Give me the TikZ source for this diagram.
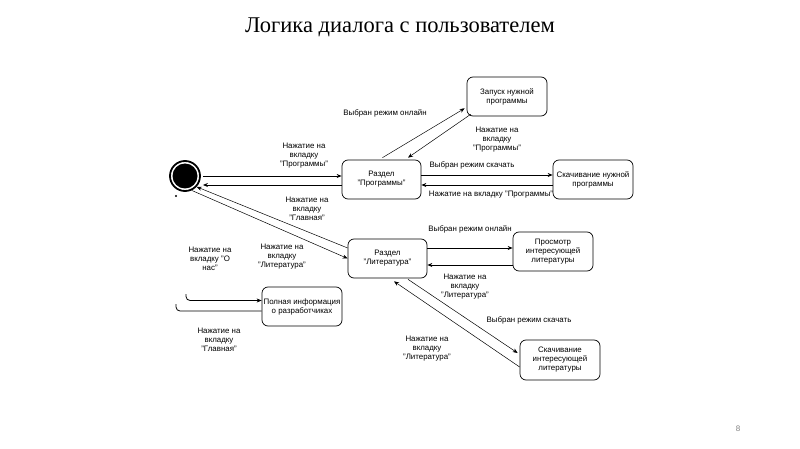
\documentclass[tikz,border=0pt]{standalone}
\usepackage{fontspec}
\setmainfont{Liberation Sans}
\newfontfamily\titlefont{Liberation Serif}
\usetikzlibrary{arrows.meta}
\begin{document}
\begin{tikzpicture}[x=1pt,y=-1pt,
  statebox/.style={draw=black,line width=0.7pt,rounded corners=6pt,minimum width=80pt,minimum height=39pt,inner sep=1pt,align=center,font=\fontsize{7.9}{9}\selectfont},
  lbl/.style={align=center,font=\fontsize{7.9}{9}\selectfont,inner sep=0pt},
  conn/.style={line width=0.8pt,-{Stealth[length=5pt,width=4pt]}},
  diag/.style={line width=0.5pt,-{Stealth[length=5pt,width=4pt]}},
  plain/.style={line width=0.8pt}]
\useasboundingbox (0,0) rectangle (800,449);
\fill[white] (0,0) rectangle (800,449);
% title
\node[font=\titlefont\fontsize{22.5}{26}\selectfont] (title) at (400,27) {Логика диалога с пользователем};
\node[font=\fontsize{8}{9}\selectfont,text=gray] (page) at (738,429) {8};
% start node
\node[circle,draw=black,line width=1.8pt,minimum size=30pt,inner sep=0pt] (start) at (185,176) {};
\fill[black] (start.center) circle (12.5);
\fill[black] (176,196) circle (1.2);
% boxes
\node[statebox] (zap) at (507,96.5) {Запуск нужной\\программы};
\node[statebox,minimum width=79pt] (prog) at (381.5,179.5) {Раздел\\"Программы"};
\node[statebox] (skprog) at (593,179.5) {Скачивание нужной\\программы};
\node[statebox,minimum width=79pt] (lit) at (387.5,258.5) {Раздел\\"Литература"};
\node[statebox] (prosm) at (553,251.5) {Просмотр\\интересующей\\литературы};
\node[statebox] (info) at (302,306.5) {Полная информация\\о разработчиках};
\node[statebox,minimum height=40pt] (sklit) at (560,360) {Скачивание\\интересующей\\литературы};
% connectors
\draw[conn] ([xshift=2pt]start.east) -- ([yshift=3.5pt]prog.west);
\draw[conn] ([yshift=-5.5pt]prog.west) -- ([xshift=2pt,yshift=-9pt]start.east);
\draw[diag] ([xshift=1pt,yshift=2pt]prog.north) -- ([xshift=-2pt,yshift=8pt]zap.south west);
\draw[diag] ([xshift=4pt,yshift=2pt]zap.south west) -- ([xshift=26.5pt,yshift=2pt]prog.north);
\draw[conn] ([yshift=4.5pt]prog.east) -- ([yshift=4.5pt]skprog.west);
\draw[conn] ([yshift=-5.5pt]skprog.west) -- ([yshift=-5.5pt]prog.east);
\draw[diag] ([yshift=10.5pt]lit.west) -- (start.-43);
\draw[diag] (start.-65) -- (lit.west);
\draw[conn] ([yshift=10.5pt]lit.east) -- ([yshift=3.5pt]prosm.west);
\draw[conn] ([yshift=-13.5pt]prosm.west) -- ([yshift=-6.5pt]lit.east);
\draw[diag] ([xshift=20.5pt,yshift=-1pt]lit.south) -- ([xshift=-2pt,yshift=7pt]sklit.west);
\draw[diag] ([yshift=-7pt]sklit.west) -- ([xshift=6.5pt,yshift=-3pt]lit.south);
\coordinate (onasA) at (186,294);
\coordinate (onasB) at (176,304);
\draw[plain,-{Stealth[length=5pt,width=4pt]},rounded corners=4pt] (onasA) |- ([yshift=6pt]info.west);
\draw[plain,rounded corners=4pt] ([yshift=-4.5pt]info.west) -| (onasB);
% labels
\node[lbl] (l1) at (385,113) {Выбран режим онлайн};
\node[lbl] (l2) at (497,140) {Нажатие на\\вкладку\\"Программы"};
\node[lbl] (l3) at (304,156) {Нажатие на\\вкладку\\"Программы"};
\node[lbl] (l4) at (472,165) {Выбран режим скачать};
\node[lbl] (l5) at (491,195) {Нажатие на вкладку "Программы"};
\node[lbl] (l6) at (307,209) {Нажатие на\\вкладку\\"Главная"};
\node[lbl] (l7) at (470,229) {Выбран режим онлайн};
\node[lbl] (l8) at (282,257) {Нажатие на\\вкладку\\"Литература"};
\node[lbl] (l9) at (210,259) {Нажатие на\\вкладку "О\\нас"};
\node[lbl] (l10) at (465,287) {Нажатие на\\вкладку\\"Литература"};
\node[lbl] (l11) at (529,320) {Выбран режим скачать};
\node[lbl] (l12) at (427,349) {Нажатие на\\вкладку\\"Литература"};
\node[lbl] (l13) at (219,340) {Нажатие на\\вкладку\\"Главная"};
\end{tikzpicture}
\end{document}
